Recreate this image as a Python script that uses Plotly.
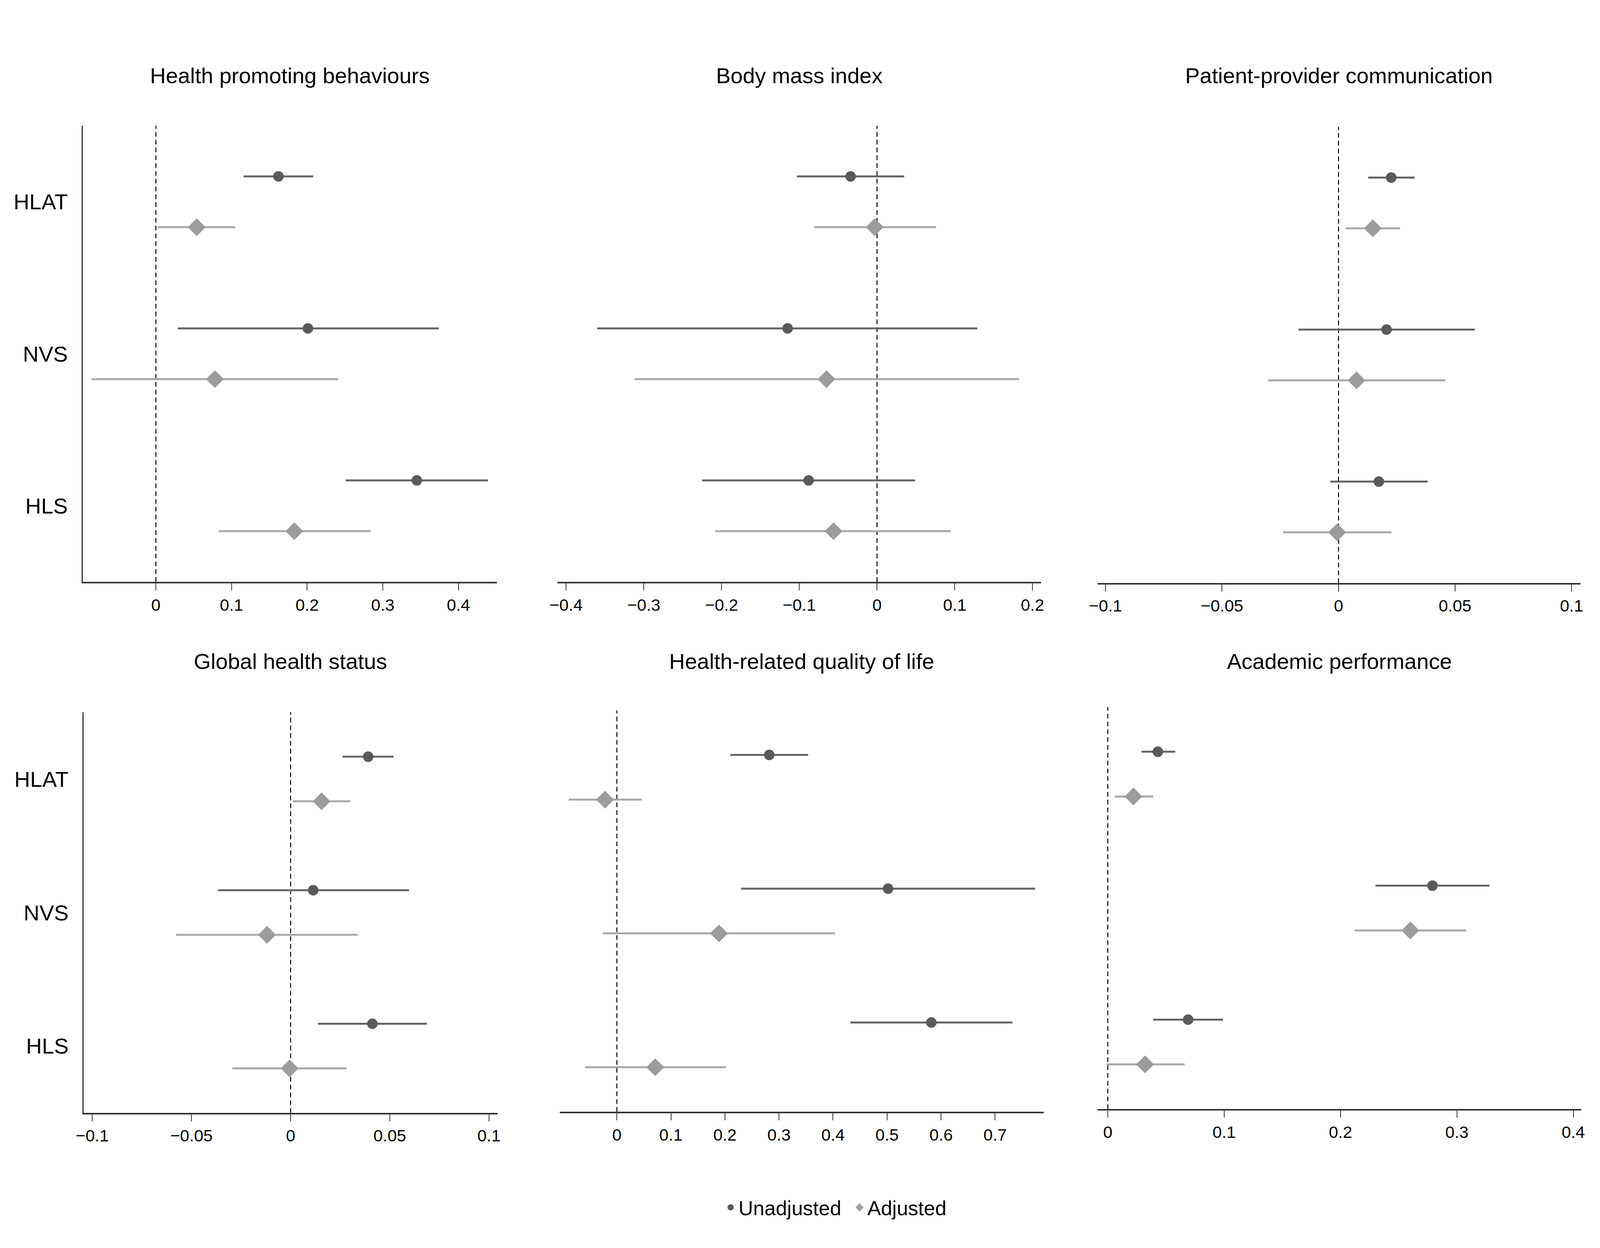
import plotly.graph_objects as go

# ---------------- data ----------------
categories = ["HLAT", "NVS", "HLS"]
panel_titles = [
    "Health promoting behaviours",
    "Body mass index",
    "Patient-provider communication",
    "Global health status",
    "Health-related quality of life",
    "Academic performance",
]
series_names = ["Unadjusted", "Adjusted"]

# Health promoting behaviours
hpb_unadj_est = [0.162, 0.201, 0.345]
hpb_unadj_lo = [0.116, 0.029, 0.251]
hpb_unadj_hi = [0.208, 0.374, 0.439]
hpb_adj_est = [0.054, 0.078, 0.183]
hpb_adj_lo = [0.003, -0.085, 0.083]
hpb_adj_hi = [0.105, 0.241, 0.284]

# Body mass index
bmi_unadj_est = [-0.034, -0.115, -0.088]
bmi_unadj_lo = [-0.103, -0.360, -0.225]
bmi_unadj_hi = [0.035, 0.129, 0.049]
bmi_adj_est = [-0.003, -0.065, -0.056]
bmi_adj_lo = [-0.081, -0.312, -0.208]
bmi_adj_hi = [0.076, 0.183, 0.095]

# Patient-provider communication
ppc_unadj_est = [0.0226, 0.0206, 0.0173]
ppc_unadj_lo = [0.0127, -0.0172, -0.0035]
ppc_unadj_hi = [0.0327, 0.0585, 0.0382]
ppc_adj_est = [0.0147, 0.0077, -0.0006]
ppc_adj_lo = [0.0031, -0.0302, -0.0238]
ppc_adj_hi = [0.0264, 0.0458, 0.0227]

# Global health status
ghs_unadj_est = [0.0391, 0.0114, 0.0412]
ghs_unadj_lo = [0.0262, -0.0366, 0.0138]
ghs_unadj_hi = [0.0519, 0.0597, 0.0687]
ghs_adj_est = [0.0156, -0.0119, -0.0005]
ghs_adj_lo = [0.0012, -0.0577, -0.0294]
ghs_adj_hi = [0.0301, 0.0338, 0.0282]

# Health-related quality of life
hrq_unadj_est = [0.282, 0.502, 0.582]
hrq_unadj_lo = [0.210, 0.230, 0.432]
hrq_unadj_hi = [0.354, 0.774, 0.732]
hrq_adj_est = [-0.022, 0.189, 0.071]
hrq_adj_lo = [-0.089, -0.026, -0.059]
hrq_adj_hi = [0.046, 0.404, 0.202]

# Academic performance
aca_unadj_est = [0.043, 0.279, 0.069]
aca_unadj_lo = [0.029, 0.230, 0.039]
aca_unadj_hi = [0.058, 0.328, 0.099]
aca_adj_est = [0.022, 0.260, 0.032]
aca_adj_lo = [0.006, 0.212, -0.001]
aca_adj_hi = [0.039, 0.308, 0.066]

# x tick values / labels per panel
hpb_ticks = [0, 0.1, 0.2, 0.3, 0.4]
hpb_ticklabels = ["0", "0.1", "0.2", "0.3", "0.4"]
bmi_ticks = [-0.4, -0.3, -0.2, -0.1, 0, 0.1, 0.2]
bmi_ticklabels = ["\u22120.4", "\u22120.3", "\u22120.2", "\u22120.1", "0", "0.1", "0.2"]
ppc_ticks = [-0.1, -0.05, 0, 0.05, 0.1]
ppc_ticklabels = ["\u22120.1", "\u22120.05", "0", "0.05", "0.1"]
ghs_ticks = [-0.1, -0.05, 0, 0.05, 0.1]
ghs_ticklabels = ["\u22120.1", "\u22120.05", "0", "0.05", "0.1"]
hrq_ticks = [0, 0.1, 0.2, 0.3, 0.4, 0.5, 0.6, 0.7]
hrq_ticklabels = ["0", "0.1", "0.2", "0.3", "0.4", "0.5", "0.6", "0.7"]
aca_ticks = [0, 0.1, 0.2, 0.3, 0.4]
aca_ticklabels = ["0", "0.1", "0.2", "0.3", "0.4"]

# ---------------- layout / style ----------------
panels = [
    dict(u=(hpb_unadj_est, hpb_unadj_lo, hpb_unadj_hi), a=(hpb_adj_est, hpb_adj_lo, hpb_adj_hi),
         ticks=hpb_ticks, labels=hpb_ticklabels, xr=[-0.0967, 0.4506],
         dx=[0.0467, 0.3074], dy=[0.5338, 0.8992], left=True),
    dict(u=(bmi_unadj_est, bmi_unadj_lo, bmi_unadj_hi), a=(bmi_adj_est, bmi_adj_lo, bmi_adj_hi),
         ticks=bmi_ticks, labels=bmi_ticklabels, xr=[-0.4112, 0.2110],
         dx=[0.3456, 0.6502], dy=[0.5338, 0.8992], left=False),
    dict(u=(ppc_unadj_est, ppc_unadj_lo, ppc_unadj_hi), a=(ppc_adj_est, ppc_adj_lo, ppc_adj_hi),
         ticks=ppc_ticks, labels=ppc_ticklabels, xr=[-0.1034, 0.1038],
         dx=[0.6858, 0.9899], dy=[0.5329, 0.8983], left=False),
    dict(u=(ghs_unadj_est, ghs_unadj_lo, ghs_unadj_hi), a=(ghs_adj_est, ghs_adj_lo, ghs_adj_hi),
         ticks=ghs_ticks, labels=ghs_ticklabels, xr=[-0.1044, 0.1043],
         dx=[0.0472, 0.3079], dy=[0.1083, 0.4293], left=True),
    dict(u=(hrq_unadj_est, hrq_unadj_lo, hrq_unadj_hi), a=(hrq_adj_est, hrq_adj_lo, hrq_adj_hi),
         ticks=hrq_ticks, labels=hrq_ticklabels, xr=[-0.106, 0.790],
         dx=[0.3470, 0.6519], dy=[0.1092, 0.4308], left=False),
    dict(u=(aca_unadj_est, aca_unadj_lo, aca_unadj_hi), a=(aca_adj_est, aca_adj_lo, aca_adj_hi),
         ticks=aca_ticks, labels=aca_ticklabels, xr=[-0.0088, 0.407],
         dx=[0.6858, 0.9905], dy=[0.1114, 0.4334], left=False),
]

# The browser viewport here is 4096 x 3196 CSS px; the layout is laid out in
# paper fractions so it fills whatever window it is shown in.
W, H = 4096, 3196
FONT = "Liberation Sans, Arial, sans-serif"
UNADJ_MARK = "#5a5a5a"
UNADJ_LINE = "#646464"
ADJ_MARK = "#9c9c9c"
ADJ_LINE = "#a8a8a8"
AXIS_COL = "#333333"
OFFSET = 0.167
base_y = {c: v for c, v in zip(categories, [3, 2, 1])}

fig = go.Figure()
layout = dict(
    width=W, height=H,
    margin=dict(l=0, r=0, t=0, b=0),
    paper_bgcolor="white", plot_bgcolor="white",
    font=dict(family=FONT, color="black"),
    showlegend=True,
    legend=dict(orientation="h", x=0.531, xanchor="center", y=0.0325, yanchor="middle",
                font=dict(size=52, family=FONT, color="black"), itemwidth=30,
                entrywidth=285, entrywidthmode="pixels",
                itemsizing="trace", bgcolor="rgba(0,0,0,0)"),
    annotations=[], shapes=[],
)

for i, p in enumerate(panels):
    k = "" if i == 0 else str(i + 1)
    xa, ya = "x" + k, "y" + k
    for s, (vals, mcol, lcol, sym, msize) in enumerate([
        (p["u"], UNADJ_MARK, UNADJ_LINE, "circle", 27),
        (p["a"], ADJ_MARK, ADJ_LINE, "diamond", 35),
    ]):
        est, lo, hi = vals
        off = OFFSET if s == 0 else -OFFSET
        ys = [base_y[c] + off for c in categories]
        fig.add_trace(go.Scatter(
            x=est, y=ys, xaxis=xa, yaxis=ya, mode="markers",
            name=series_names[s], legendgroup=series_names[s], showlegend=(i == 0),
            marker=dict(symbol=sym, size=msize, color=mcol, line=dict(width=0)),
            error_x=dict(type="data", symmetric=False,
                         array=[h - e for h, e in zip(hi, est)],
                         arrayminus=[e - l for e, l in zip(est, lo)],
                         width=0, thickness=5, color=lcol),
            cliponaxis=False,
        ))
    layout["xaxis" + k] = dict(
        domain=p["dx"], anchor=ya, range=p["xr"], tickmode="array",
        tickvals=p["ticks"], ticktext=p["labels"], showline=True, linewidth=4,
        linecolor=AXIS_COL, ticks="outside", ticklen=18, tickwidth=2, tickcolor=AXIS_COL,
        showgrid=False, zeroline=False, tickfont=dict(size=43, color="black", family=FONT),
        fixedrange=True,
    )
    layout["yaxis" + k] = dict(
        domain=p["dy"], anchor=xa, range=[0.5, 3.5], tickmode="array",
        tickvals=[base_y[c] for c in categories],
        ticktext=categories if p["left"] else ["", "", ""],
        showticklabels=p["left"], showline=p["left"], linewidth=3, linecolor=AXIS_COL,
        ticks="", ticklabelstandoff=24, showgrid=False, zeroline=False,
        tickfont=dict(size=56, color="black", family=FONT), fixedrange=True,
    )
    layout["shapes"].append(dict(
        type="line", xref=xa, yref=ya + " domain", x0=0, x1=0, y0=0, y1=1,
        line=dict(color="black", width=2.5, dash="12px,8px"), layer="below",
    ))
    layout["annotations"].append(dict(
        text=panel_titles[i], xref="paper", yref="paper",
        x=(p["dx"][0] + p["dx"][1]) / 2, y=(0.9393 if i < 3 else 0.4700),
        xanchor="center", yanchor="middle", showarrow=False,
        font=dict(size=56, color="black", family=FONT),
    ))

fig.update_layout(**layout)

# remove the default page margin and fit the figure to the browser window
post_js = """
document.body.style.margin = '0';
document.body.style.overflow = 'hidden';
var gd = document.getElementById('{plot_id}');
Plotly.relayout(gd, {width: window.innerWidth, height: window.innerHeight});
"""
fig.write_html("out.html", post_script=post_js, config={"displayModeBar": False})
